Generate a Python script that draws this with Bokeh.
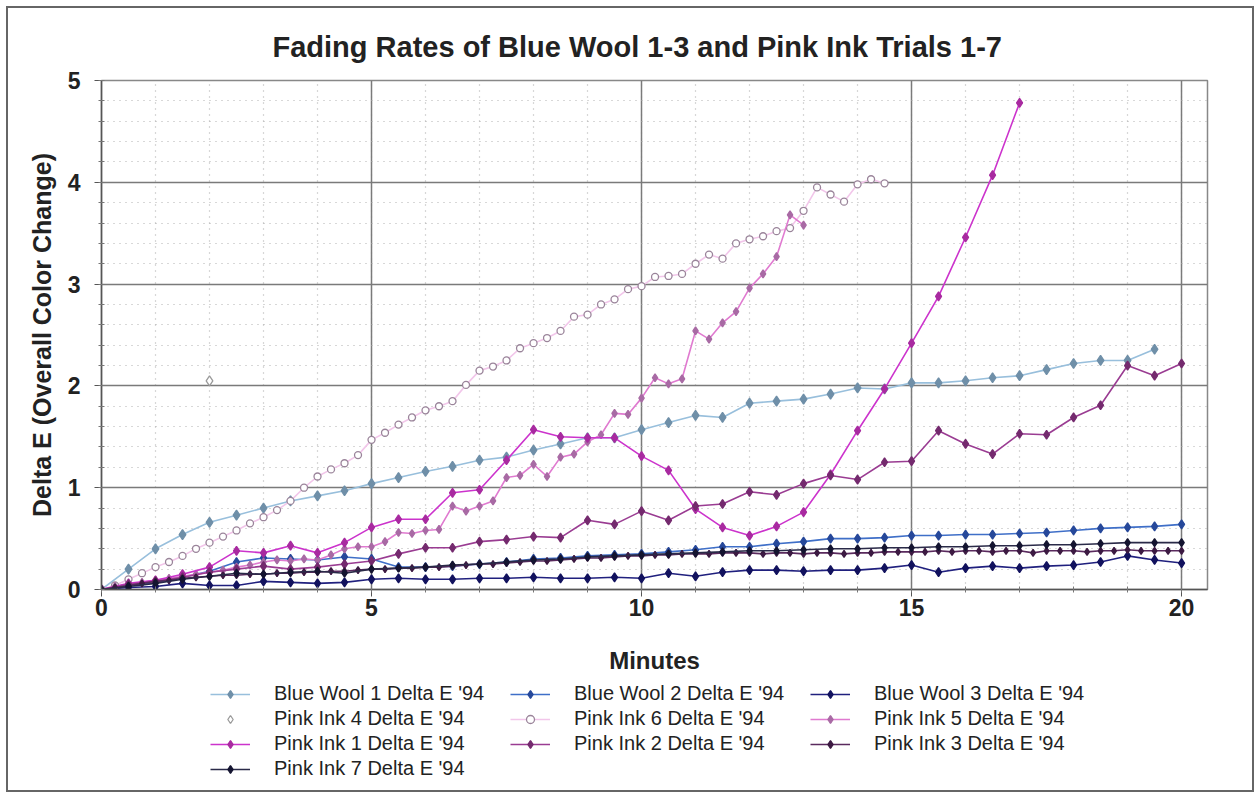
from bokeh.plotting import figure
from bokeh.models import SingleIntervalTicker, Legend, LegendItem, Range1d
from bokeh.layouts import column
from bokeh.embed import file_html
from bokeh.resources import INLINE

TITLE = "Fading Rates of Blue Wool 1-3 and Pink Ink Trials 1-7"
X_LABEL = "Minutes"
Y_LABEL = "Delta E (Overall Color Change)"

# sampling times (minutes)
MIN_HALF_195 = [0, 0.5, 1, 1.5, 2, 2.5, 3, 3.5, 4, 4.5, 5, 5.5, 6, 6.5, 7, 7.5, 8, 8.5, 9, 9.5,
                10, 10.5, 11, 11.5, 12, 12.5, 13, 13.5, 14, 14.5, 15, 15.5, 16, 16.5, 17, 17.5,
                18, 18.5, 19, 19.5]
MIN_HALF_20 = MIN_HALF_195 + [20]
MIN_HALF_17 = [0, 0.5, 1, 1.5, 2, 2.5, 3, 3.5, 4, 4.5, 5, 5.5, 6, 6.5, 7, 7.5, 8, 8.5, 9, 9.5,
               10, 10.5, 11, 11.5, 12, 12.5, 13, 13.5, 14, 14.5, 15, 15.5, 16, 16.5, 17]
MIN_QTR_20 = [0, 0.25, 0.5, 0.75, 1, 1.25, 1.5, 1.75, 2, 2.25, 2.5, 2.75, 3, 3.25, 3.5, 3.75,
              4, 4.25, 4.5, 4.75, 5, 5.25, 5.5, 5.75, 6, 6.25, 6.5, 6.75, 7, 7.25, 7.5, 7.75,
              8, 8.25, 8.5, 8.75, 9, 9.25, 9.5, 9.75, 10, 10.25, 10.5, 10.75, 11, 11.25, 11.5, 11.75,
              12, 12.25, 12.5, 12.75, 13, 13.25, 13.5, 13.75, 14, 14.25, 14.5, 14.75, 15, 15.25,
              15.5, 15.75, 16, 16.25, 16.5, 16.75, 17, 17.25, 17.5, 17.75, 18, 18.25, 18.5, 18.75,
              19, 19.25, 19.5, 19.75, 20]
MIN_QTR_13 = MIN_QTR_20[:53]
MIN_QTR_145 = MIN_QTR_20[:59]
MIN_PI4 = [2]

# Delta E '94 values
BW1 = [0, 0.2, 0.4, 0.54, 0.66, 0.73, 0.8, 0.87, 0.92, 0.97, 1.04, 1.1, 1.16, 1.21, 1.27, 1.3,
       1.37, 1.43, 1.49, 1.49, 1.57, 1.64, 1.71, 1.69, 1.83, 1.85, 1.87, 1.92, 1.98, 1.97, 2.03,
       2.03, 2.05, 2.08, 2.1, 2.16, 2.22, 2.25, 2.25, 2.36]
BW2 = [0, 0.04, 0.07, 0.12, 0.18, 0.27, 0.31, 0.3, 0.29, 0.32, 0.3, 0.22, 0.22, 0.23, 0.25, 0.27,
       0.3, 0.31, 0.33, 0.34, 0.35, 0.37, 0.39, 0.42, 0.42, 0.45, 0.47, 0.5, 0.5, 0.51, 0.53, 0.53,
       0.54, 0.54, 0.55, 0.56, 0.58, 0.6, 0.61, 0.62, 0.64]
BW3 = [0, 0.02, 0.03, 0.06, 0.04, 0.04, 0.08, 0.07, 0.06, 0.07, 0.1, 0.11, 0.1, 0.1, 0.11, 0.11,
       0.12, 0.11, 0.11, 0.12, 0.11, 0.16, 0.13, 0.17, 0.19, 0.19, 0.18, 0.19, 0.19, 0.21, 0.24,
       0.17, 0.21, 0.23, 0.21, 0.23, 0.24, 0.27, 0.33, 0.29, 0.26]
PI4 = [2.05]
PI6 = [0, 0.04, 0.1, 0.16, 0.22, 0.27, 0.33, 0.4, 0.46, 0.52, 0.58, 0.65, 0.71, 0.78, 0.87, 1.0,
       1.11, 1.18, 1.24, 1.32, 1.47, 1.54, 1.62, 1.69, 1.76, 1.8, 1.85, 2.01, 2.15, 2.19, 2.25, 2.37,
       2.42, 2.47, 2.54, 2.68, 2.7, 2.8, 2.85, 2.95, 2.98, 3.07, 3.08, 3.1, 3.2, 3.29, 3.25, 3.4,
       3.44, 3.47, 3.52, 3.55, 3.72, 3.95, 3.88, 3.81, 3.98, 4.03, 3.99]
PI5 = [0, 0.03, 0.05, 0.07, 0.09, 0.11, 0.13, 0.15, 0.17, 0.19, 0.22, 0.24, 0.27, 0.29, 0.28, 0.3,
       0.29, 0.34, 0.4, 0.42, 0.42, 0.47, 0.56, 0.55, 0.58, 0.59, 0.82, 0.77, 0.82, 0.87, 1.1, 1.12,
       1.23, 1.11, 1.3, 1.33, 1.45, 1.52, 1.73, 1.72, 1.88, 2.08, 2.02, 2.07, 2.54, 2.46, 2.62, 2.73,
       2.96, 3.1, 3.27, 3.68, 3.58]
PI1 = [0, 0.06, 0.09, 0.15, 0.22, 0.38, 0.36, 0.43, 0.36, 0.46, 0.61, 0.69, 0.69, 0.95, 0.98, 1.27,
       1.57, 1.5, 1.49, 1.49, 1.31, 1.17, 0.79, 0.61, 0.53, 0.62, 0.76, 1.13, 1.56, 1.97, 2.42, 2.88,
       3.46, 4.07, 4.78]
PI2 = [0, 0.05, 0.08, 0.12, 0.17, 0.2, 0.23, 0.2, 0.22, 0.25, 0.28, 0.35, 0.41, 0.41, 0.47, 0.49,
       0.52, 0.51, 0.68, 0.64, 0.77, 0.68, 0.82, 0.84, 0.96, 0.93, 1.04, 1.12, 1.08, 1.25, 1.26, 1.56,
       1.43, 1.33, 1.53, 1.52, 1.69, 1.81, 2.2, 2.1, 2.22]
PI3 = [0, 0.02, 0.04, 0.06, 0.08, 0.09, 0.11, 0.12, 0.13, 0.14, 0.14, 0.15, 0.15, 0.16, 0.16, 0.17,
       0.17, 0.18, 0.18, 0.19, 0.2, 0.2, 0.21, 0.21, 0.22, 0.22, 0.23, 0.24, 0.25, 0.25, 0.26, 0.27,
       0.28, 0.28, 0.29, 0.3, 0.31, 0.31, 0.32, 0.33, 0.33, 0.34, 0.34, 0.35, 0.35, 0.35, 0.36, 0.36,
       0.36, 0.35, 0.36, 0.36, 0.35, 0.36, 0.36, 0.35, 0.36, 0.36, 0.37, 0.37, 0.37, 0.37, 0.38, 0.37,
       0.38, 0.38, 0.37, 0.38, 0.38, 0.36, 0.38, 0.38, 0.38, 0.37, 0.38, 0.38, 0.39, 0.38, 0.38, 0.38,
       0.38]
PI7 = [0, 0.03, 0.06, 0.1, 0.13, 0.16, 0.15, 0.17, 0.18, 0.16, 0.2, 0.21, 0.22, 0.24, 0.25, 0.27,
       0.29, 0.3, 0.32, 0.33, 0.34, 0.35, 0.36, 0.37, 0.38, 0.38, 0.39, 0.4, 0.4, 0.41, 0.41, 0.42,
       0.42, 0.43, 0.43, 0.44, 0.44, 0.45, 0.46, 0.46, 0.46]

FONT = "Liberation Sans"

p = figure(width=1244, height=668, output_backend="svg", toolbar_location=None,
           x_range=Range1d(0, 20.48), y_range=Range1d(0, 5),
           min_border_left=93, min_border_right=45, min_border_top=72, min_border_bottom=87)

p.title.text = TITLE
p.title.align = "left"
p.title.offset = 171
p.title.text_font = FONT
p.title.text_font_size = "29px"
p.title.text_font_style = "bold"
p.title.text_color = "#222222"
p.title.standoff = 36

p.xaxis.ticker = SingleIntervalTicker(interval=5, num_minor_ticks=5)
p.yaxis.ticker = SingleIntervalTicker(interval=1, num_minor_ticks=5)
p.xgrid.ticker = p.xaxis.ticker
p.ygrid.ticker = p.yaxis.ticker

for ax in (p.xaxis, p.yaxis):
    ax.axis_line_color = "#555555"
    ax.axis_line_width = 1.5
    ax.major_tick_line_color = "#555555"
    ax.minor_tick_line_color = "#777777"
    ax.major_tick_in = 0
    ax.major_tick_out = 7
    ax.minor_tick_in = 3
    ax.minor_tick_out = 3
    ax.major_label_text_font = FONT
    ax.major_label_text_font_size = "23px"
    ax.major_label_text_font_style = "bold"
    ax.major_label_text_color = "#222222"
    ax.axis_label_text_font = FONT
    ax.axis_label_text_font_style = "bold"
    ax.axis_label_text_color = "#222222"

p.xaxis.axis_label = X_LABEL
p.yaxis.axis_label = Y_LABEL
p.xaxis.axis_label_text_font_size = "24px"
p.yaxis.axis_label_text_font_size = "25px"
p.xaxis.major_label_standoff = 2
p.yaxis.major_label_standoff = 14
p.xaxis.axis_label_standoff = 28
p.yaxis.axis_label_standoff = 9

for g in (p.xgrid, p.ygrid):
    g.grid_line_color = "#7a7a7a"
    g.grid_line_width = 1.5
    g.minor_grid_line_color = "#b0b0b0"
    g.minor_grid_line_dash = "1 5"
    g.minor_grid_line_width = 1.2

p.outline_line_color = "#888888"
p.outline_line_width = 1.5

# legend strip below the chart (its frame is aligned with the chart's frame)
p2 = figure(width=1244, height=114, output_backend="svg", toolbar_location=None,
            x_range=Range1d(0, 1), y_range=Range1d(0, 1), min_border=0,
            x_axis_location=None, y_axis_location=None)
p2.grid.visible = False
p2.outline_line_color = None

series = [
    ("Blue Wool 1 Delta E '94", MIN_HALF_195, BW1, "#98bfdc", "#6f8fa8", "#6f8fa8", "diamond", 10, True),
    ("Blue Wool 2 Delta E '94", MIN_HALF_20, BW2, "#3f6fc8", "#26489a", "#26489a", "diamond", 9, True),
    ("Blue Wool 3 Delta E '94", MIN_HALF_20, BW3, "#20207e", "#12125e", "#12125e", "diamond", 9, True),
    ("Pink Ink 4 Delta E '94", MIN_PI4, PI4, None, "#9a9a9a", "white", "diamond", 10, False),
    ("Pink Ink 6 Delta E '94", MIN_QTR_145, PI6, "#f2c6ea", "#9a849a", "white", "circle", 7, True),
    ("Pink Ink 5 Delta E '94", MIN_QTR_13, PI5, "#e07ad0", "#a86aa4", "#a86aa4", "diamond", 8, True),
    ("Pink Ink 1 Delta E '94", MIN_HALF_17, PI1, "#cc33cc", "#a82aa0", "#a82aa0", "diamond", 9, True),
    ("Pink Ink 2 Delta E '94", MIN_HALF_20, PI2, "#9a3c92", "#742a6e", "#742a6e", "diamond", 9, True),
    ("Pink Ink 3 Delta E '94", MIN_QTR_20, PI3, "#5a2a5e", "#3c1a42", "#3c1a42", "diamond", 7, True),
    ("Pink Ink 7 Delta E '94", MIN_HALF_20, PI7, "#2a2a48", "#141430", "#141430", "diamond", 8, True),
]

items = {}
for label, xs, ys, lc, mc, fc, marker, size, has_line in series:
    if has_line:
        p.line(xs, ys, line_color=lc, line_width=1.6)
    p.scatter(xs, ys, marker=marker, size=size, line_color=mc, fill_color=fc, line_width=1.3)
    # legend swatches (placed outside the visible range of the legend strip)
    rs = []
    if has_line:
        rs.append(p2.line([-5, -4], [-5, -4], line_color=lc, line_width=1.6))
    rs.append(p2.scatter([-5], [-5], marker=marker, size=size, line_color=mc, fill_color=fc,
                         line_width=1.3))
    items[label] = LegendItem(label=label, renderers=rs)

cols = [
    (["Blue Wool 1 Delta E '94", "Pink Ink 4 Delta E '94", "Pink Ink 1 Delta E '94",
      "Pink Ink 7 Delta E '94"], 109, 10),
    (["Blue Wool 2 Delta E '94", "Pink Ink 6 Delta E '94", "Pink Ink 2 Delta E '94"], 409, 35),
    (["Blue Wool 3 Delta E '94", "Pink Ink 5 Delta E '94", "Pink Ink 3 Delta E '94"], 709, 35),
]
for labels, lx, ly in cols:
    leg = Legend(items=[items[l] for l in labels], location=(lx, ly),
                 orientation="vertical", padding=0, margin=0, spacing=2,
                 glyph_width=40, glyph_height=20, label_height=20, label_standoff=24,
                 label_text_font=FONT, label_text_font_size="20px", label_text_color="#222222",
                 border_line_color=None, background_fill_alpha=0)
    p2.add_layout(leg)

layout = column(p, p2, spacing=0,
                styles={"margin-left": "8px", "margin-top": "8px", "outline": "2px solid #666666"})

open("out.html", "w").write(file_html(layout, INLINE))
